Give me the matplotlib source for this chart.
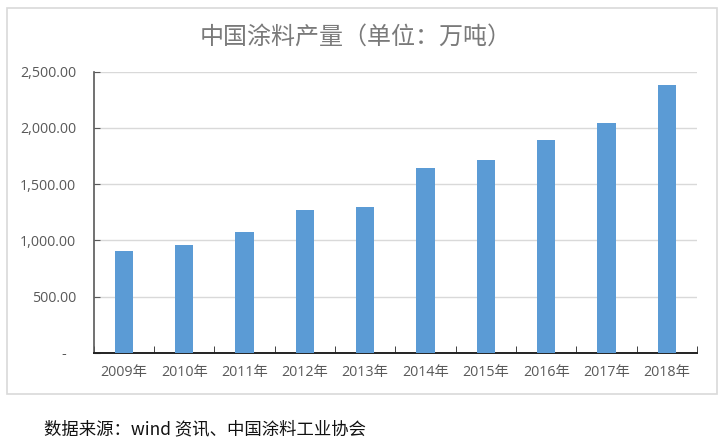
import matplotlib.pyplot as plt
from matplotlib.patches import Rectangle
from matplotlib.transforms import ScaledTranslation

# data
years = ["2009年", "2010年", "2011年", "2012年", "2013年",
         "2014年", "2015年", "2016年", "2017年", "2018年"]
output = [908, 962, 1076, 1270, 1299, 1640, 1714, 1892, 2041, 2382]
y_ticks = [0, 500, 1000, 1500, 2000, 2500]
y_labels = ["-", "500.00", "1,000.00", "1,500.00", "2,000.00", "2,500.00"]

title = "中国涂料产量（单位：万吨）"
source = "数据来源：wind 资讯、中国涂料工业协会"

plt.rcParams['font.family'] = ['Open Sans', 'Noto Sans CJK SC', 'DejaVu Sans']

fig = plt.figure(figsize=(7.28, 4.44), dpi=100)
W, H = 728, 444

# chart frame
fig.patches.append(Rectangle((7 / W, (H - 394) / H), 710 / W, 386 / H,
                             transform=fig.transFigure, fill=False,
                             edgecolor="#d9d9d9", linewidth=1.2))

ax = fig.add_axes([93.7 / W, (H - 352.7) / H, 603.3 / W, 281 / H])
x = range(len(years))
ax.bar(x, output, width=0.3, color="#5b9bd5", zorder=3)

ax.set_xlim(-0.5, len(years) - 0.5)
ax.set_ylim(0, 2500)

ax.set_yticks(y_ticks)
ax.set_yticklabels(y_labels, fontsize=10.3, color="#595959")
ax.yaxis.grid(True, color="#d9d9d9", linewidth=1, zorder=0)
ax.tick_params(axis="y", direction="in", length=4, color="#595959", pad=12.5)

# shift the zero label left, like Excel's accounting format
zero_lab = ax.get_yticklabels()[0]
zero_lab.set_transform(zero_lab.get_transform() + ScaledTranslation(-7 / 72, 0, fig.dpi_scale_trans))

ax.set_xticks(list(x))
ax.set_xticklabels(years, fontsize=10.3, color="#595959")
ax.tick_params(axis="x", which="major", length=0, pad=9)
ax.set_xticks([i - 0.5 for i in range(len(years) + 1)], minor=True)
ax.tick_params(axis="x", which="minor", direction="in", length=5, color="#222222")

for s in ["top", "right"]:
    ax.spines[s].set_visible(False)
ax.spines["left"].set_color("#595959")
ax.spines["bottom"].set_color("#222222")
ax.spines["left"].set_linewidth(1.2)
ax.spines["bottom"].set_linewidth(1.4)

fig.text(356 / W, (H - 37) / H, title, ha="center", va="center",
         fontsize=17.3, color="#7a7a7a", family=['Noto Sans CJK SC', 'DejaVu Sans'],
         fontweight="light")
fig.text(44 / W, (H - 429) / H, source, ha="left", va="center",
         fontsize=12.5, color="#111111", family=['Noto Sans CJK SC', 'DejaVu Sans'])

fig.savefig("out.png", dpi=100)
